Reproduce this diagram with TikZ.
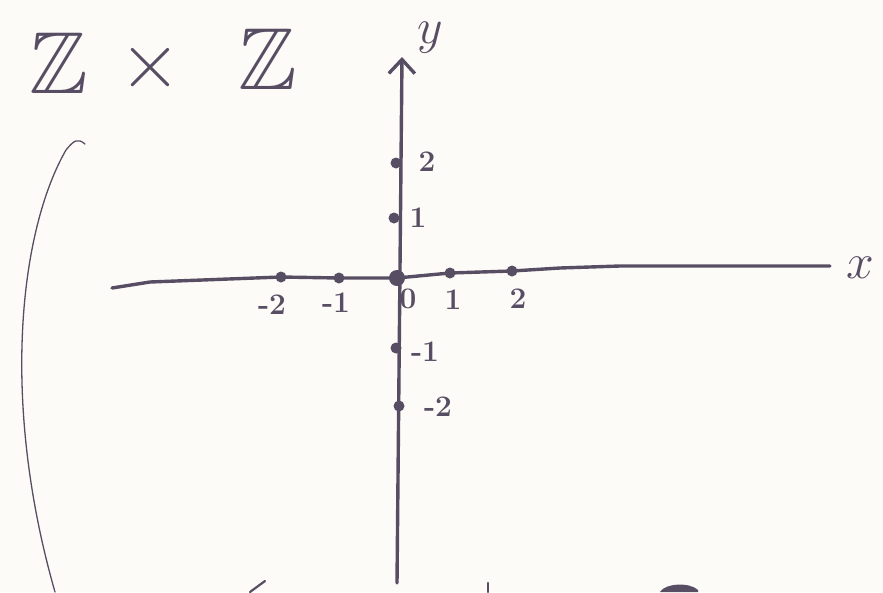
\documentclass[tikz,border=0pt]{standalone}
\usepackage{amsmath,amssymb}
\usetikzlibrary{arrows.meta,positioning}
\definecolor{ink}{RGB}{88,78,100}
\definecolor{paper}{RGB}{253,251,248}
\tikzset{
  axis/.style={draw=ink,line width=3.4pt,line cap=round,line join=round},
  dot/.style={circle,inner sep=0pt,minimum size=11pt},
  num/.style={text=ink,font=\fontsize{24.88}{30}\selectfont\bfseries,inner sep=1pt,scale=1.2},
  title/.style={text=ink,font=\fontsize{88}{88}\selectfont,inner sep=0pt},
  letter/.style={text=ink,font=\fontsize{24.88}{30}\selectfont,inner sep=0pt,scale=2},
  bracket/.style={draw=ink,line width=1.3pt,line cap=round}
}

\begin{document}
\begin{tikzpicture}[x=1pt,y=-1pt]
\fill[paper] (0,0) rectangle (883,592);
\useasboundingbox (0,0) rectangle (883,592);

% title
\node[title] (za) at (59,63) {$\mathbb{Z}$};
\node[letter,scale=1.6] (cross) at (150,68) {$\times$};
\node[title] (zb) at (268,59) {$\mathbb{Z}$};

% axis ends
\coordinate (xl) at (112,288);
\coordinate (xk) at (150,282);
\coordinate (xr) at (830,266);
\coordinate (yb) at (397,583);
\coordinate (yt) at (402,57);

% points on the axes
\node[dot] (m2) at (281,277) {};
\node[dot] (m1) at (339,278) {};
\node[dot,minimum size=16pt] (o) at (397,278) {};
\node[dot] (p1) at (450,273) {};
\node[dot] (p2) at (512,271) {};
\node[dot] (q2) at (396,163) {};
\node[dot] (q1) at (394,218) {};
\node[dot] (n1) at (396,348) {};
\node[dot] (n2) at (399,406) {};

\draw[axis] (xl) -- (xk) -- (m2.center) -- (m1.center) -- (o.center) -- (p1.center)
  -- (p2.center) -- (560,268) -- (620,266) -- (xr);
\draw[axis,-{Straight Barb[length=14pt,width=26pt]}] (yb) -- (yt);
\foreach \p in {m2,m1,p1,p2,q2,q1,n1,n2}
  \fill[ink] (\p) circle (5.5pt);
\fill[ink] (o) circle (8pt);

% labels
\node[num] at (272,305) {-2};
\node[num] at (336,303) {-1};
\node[num] at (408,299) {0};
\node[num] at (453,300) {1};
\node[num] at (518,299) {2};
\node[num] at (427,162) {2};
\node[num] at (418,218) {1};
\node[num] at (425,352) {-1};
\node[num] at (438,407) {-2};
\node[letter] (ylab) at (430,38) {$y$};
\node[letter] (xlab) at (860,268) {$x$};

% left bracket
\draw[bracket] (85,144) .. controls (78,138) and (74,140) .. (66,150)
  .. controls (20,230) and (0,400) .. (55,592);

% cut strokes at the bottom edge
\draw[bracket,line width=2.2pt] (250,592) -- (265,581);
\draw[bracket,line width=2.2pt] (488,583) -- (488,592);
\fill[ink] (660,592) .. controls (665,583) and (690,582) .. (698,590) -- (698,592) -- cycle;
\end{tikzpicture}
\end{document}
